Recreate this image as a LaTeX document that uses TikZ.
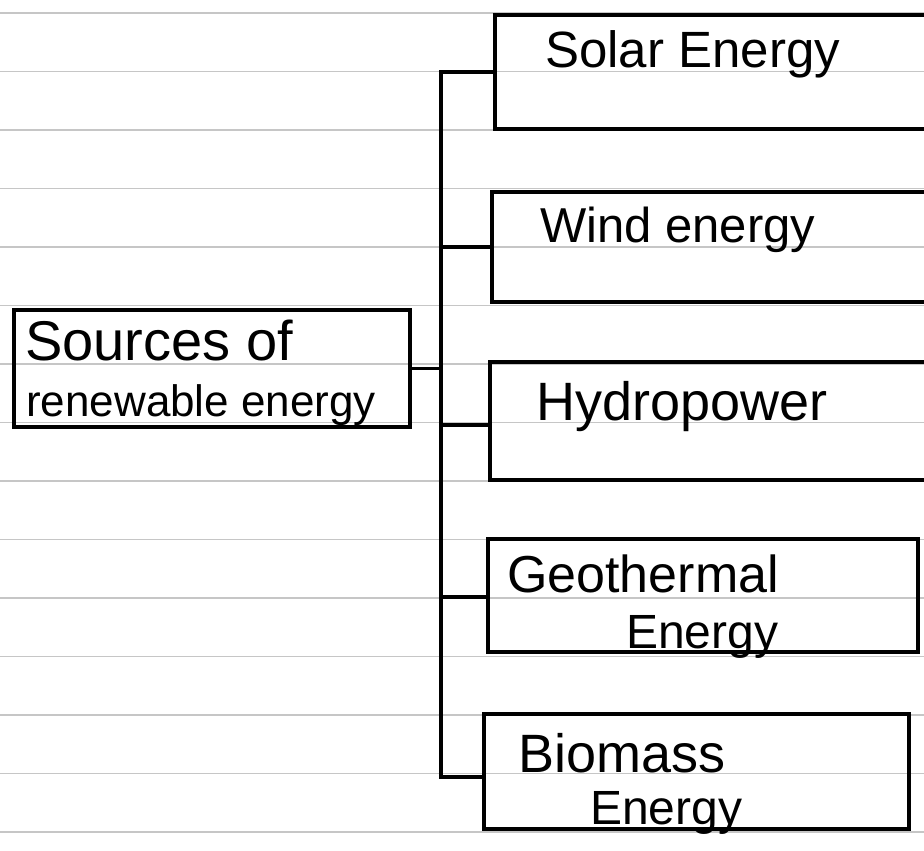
\documentclass[tikz,border=0pt]{standalone}
\usepackage{fontspec}
\setmainfont{Liberation Sans}
\begin{document}
\begin{tikzpicture}[x=1pt,y=-1pt,
  box/.style={draw,line width=3.6pt,rectangle,inner sep=0pt,anchor=north west},
  conn/.style={line width=3.6pt,line cap=rect},
  txt/.style={font=\fontsize{#1}{#1}\selectfont,inner sep=0pt,anchor=base west},
  txt/.default=50,
  rule/.style={gray!45,line width=1.3pt}]
\useasboundingbox (0,0) rectangle (924,851);
\clip (0,0) rectangle (924,851);
\foreach \k in {0,...,14} \draw[rule] (0,13+58.5*\k) -- (924,13+58.5*\k);
% boxes
\node[box,minimum width=396pt,minimum height=117pt] (src) at (12,308) {};
\node[box,minimum width=450pt,minimum height=114pt] (solar) at (493,13) {};
\node[box,minimum width=450pt,minimum height=110pt] (wind) at (490,190) {};
\node[box,minimum width=450pt,minimum height=118pt] (hydro) at (488,360) {};
\node[box,minimum width=430pt,minimum height=113pt] (geo) at (486,537) {};
\node[box,minimum width=425pt,minimum height=115pt] (bio) at (482,712) {};
% texts
\node[txt=56] (srcA) at (25,360) {Sources of};
\node[txt=44] (srcB) at (26,416) {renewable energy};
\node[txt=51] (solarT) at (545,67) {Solar Energy};
\node[txt=49] (windT) at (540,242) {Wind energy};
\node[txt=54] (hydroT) at (536,420) {Hydropower};
\node[txt=52] (geoA) at (507,592) {Geothermal};
\node[txt=48] (geoB) at (626,648) {Energy};
\node[txt=54] (bioA) at (518,772) {Biomass};
\node[txt=48] (bioB) at (590,824) {Energy};
% connectors
\coordinate (jt) at (441,72);
\coordinate (jb) at (441,777);
\coordinate (jw) at (441,247);
\coordinate (jh) at (441,425);
\coordinate (jg) at (441,597);
\draw[conn] (jt) -- (jb);
\draw[conn] (src.east) -- (src.east -| jt);
\draw[conn] (jt) -- (jt -| solar.west);
\draw[conn] (jw) -- (jw -| wind.west);
\draw[conn] (jh) -- (jh -| hydro.west);
\draw[conn] (jg) -- (jg -| geo.west);
\draw[conn] (jb) -- (jb -| bio.west);
\end{tikzpicture}
\end{document}
